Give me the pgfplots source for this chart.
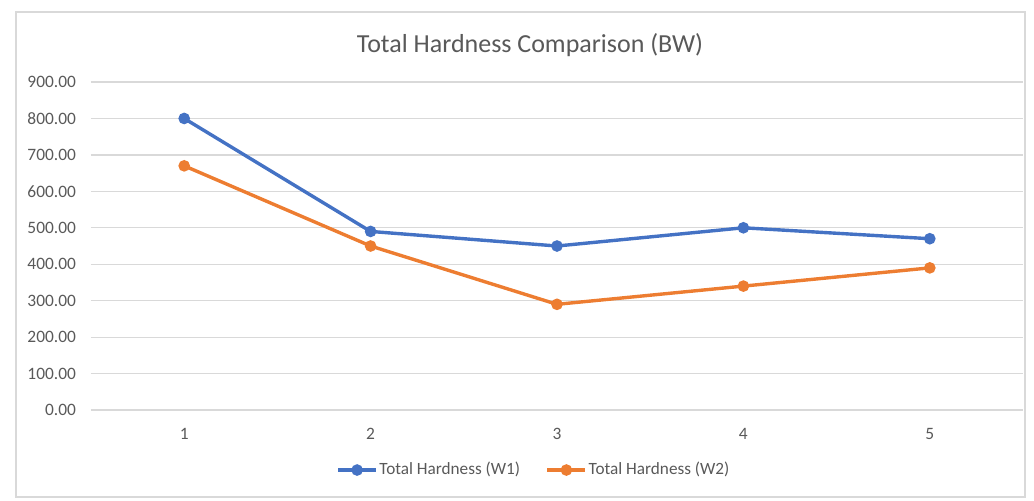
\documentclass[border=0pt]{standalone}
\usepackage{fontspec}
\setmainfont{Carlito}
\usepackage{pgfplots}
\pgfplotsset{compat=1.18}
\definecolor{xblue}{HTML}{4472C4}
\definecolor{xorange}{HTML}{ED7D31}
\definecolor{xgrid}{HTML}{D9D9D9}
\definecolor{xtext}{HTML}{595959}
\begin{document}
\begin{tikzpicture}
\useasboundingbox (0pt,0pt) rectangle (517pt,-250pt);
\draw[xgrid, line width=0.6pt] (8pt,-6pt) rectangle (512.5pt,-248.5pt);
\node[text=xtext, font=\fontsize{13}{15}\selectfont] at (265pt,-22.5pt) {Total Hardness Comparison (BW)};
\begin{axis}[
  at={(45.5pt,-205pt)}, anchor=south west,
  scale only axis, width=466pt, height=164pt,
  xmin=0.5, xmax=5.5, ymin=0, ymax=900,
  xtick={1,2,3,4,5}, ytick={0,100,...,900},
  axis line style={draw=none},
  major tick length=0pt,
  ymajorgrids, grid style={xgrid, line width=0.6pt},
  tick label style={text=xtext, font=\fontsize{8.7}{10}\selectfont},
  /pgf/number format/assume math mode=true,
  yticklabel={\pgfmathprintnumber[fixed,fixed zerofill,precision=2]{\tick}},
  yticklabel style={xshift=-4pt},
  xticklabel style={yshift=-5.5pt},
  legend columns=2,
  legend style={at={(0.475,-0.183)}, anchor=center, draw=none, fill=none,
    font=\fontsize{8.6}{10}\selectfont, text=xtext,
    nodes={inner xsep=0.8pt},
    /tikz/every even column/.append style={column sep=12pt},
    inner sep=0pt},
  legend cell align=left,
  legend image code/.code={
    \draw[#1, mark repeat=2, mark phase=2] plot coordinates {(0pt,0pt) (9.5pt,0pt) (19pt,0pt)};
  },
]
\addplot[xblue, line width=1.7pt, mark=*, mark size=2.5pt, mark options={solid, fill=xblue, draw=xblue, line width=0.8pt}]
  coordinates {(1,800) (2,490) (3,450) (4,500) (5,470)};
\addlegendentry{Total Hardness (W1)}
\addplot[xorange, line width=1.7pt, mark=*, mark size=2.5pt, mark options={solid, fill=xorange, draw=xorange, line width=0.8pt}]
  coordinates {(1,670) (2,450) (3,290) (4,340) (5,390)};
\addlegendentry{Total Hardness (W2)}
\end{axis}
\end{tikzpicture}
\end{document}
